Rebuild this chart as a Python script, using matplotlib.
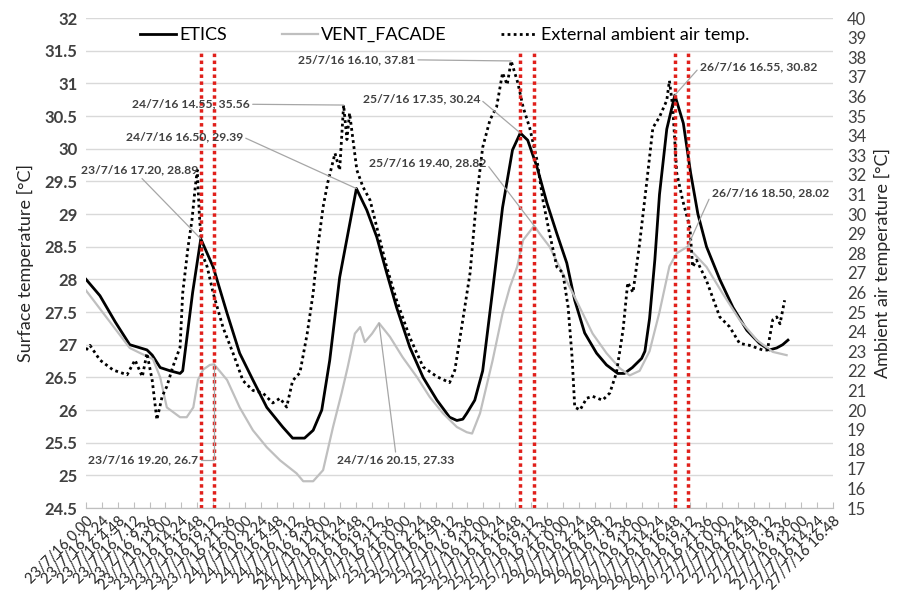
import numpy as np
import matplotlib
matplotlib.use("Agg")
import matplotlib.pyplot as plt

plt.rcParams['font.family'] = ['Lato', 'DejaVu Sans']

# time axis in hours from 23/7/16 0.00
etics_h = [0, 2.1, 4.4, 6.6, 9.2, 10.0, 11.2, 12.7, 14.2, 14.6, 16.1, 17.33, 19.2, 21.3,
           23.2, 25.2, 27.3, 29.7, 31.2, 33.0, 34.3, 35.6, 36.8, 38.3, 40.83, 42.4, 43.9,
           45.4, 46.9, 48.9, 50.9, 53.0, 54.9, 56.0, 56.9, 57.5, 58.7, 59.9, 61.4, 62.9,
           64.4, 65.58, 66.7, 68.1, 69.6, 71.1, 72.6, 73.8, 75.3, 77.1, 78.6, 80.3, 81.3,
           82.5, 83.9, 84.4, 85.1, 85.9, 86.6, 87.7, 88.92, 90.2, 91.3, 92.4, 93.7, 95.7,
           97.7, 99.8, 101.7, 103.2, 104.3, 105.2, 106.0]
etics = [28.0, 27.75, 27.35, 27.0, 26.92, 26.84, 26.65, 26.6, 26.56, 26.6, 27.8, 28.62, 28.19, 27.48,
         26.87, 26.46, 26.04, 25.74, 25.57, 25.57, 25.69, 26.0, 26.76, 28.03, 29.39, 29.06, 28.65,
         28.1, 27.57, 26.96, 26.5, 26.15, 25.89, 25.84, 25.86, 25.95, 26.15, 26.6, 27.83, 29.1,
         29.98, 30.24, 30.13, 29.72, 29.17, 28.7, 28.25, 27.68, 27.18, 26.87, 26.69, 26.56, 26.56,
         26.65, 26.79, 26.9, 27.4, 28.3, 29.3, 30.3, 30.82, 30.39, 29.63, 29.0, 28.5, 28.0,
         27.57, 27.22, 27.02, 26.92, 26.95, 27.0, 27.07]

vent_h = [0, 6.6, 8.2, 10.1, 11.2, 12.2, 14.2, 15.2, 16.2, 16.9, 17.7, 18.7, 19.33, 21.3,
          23.2, 25.2, 27.3, 29.3, 31.8, 32.8, 34.3, 35.8, 37.3, 38.6, 39.5, 40.6, 41.4,
          42.1, 43.2, 44.25, 45.9, 47.8, 50.0, 51.9, 53.9, 56.0, 57.5, 58.3, 59.5, 61.4,
          62.9, 64.0, 65.1, 66.0, 67.67, 68.5, 70.0, 71.5, 73.5, 75.0, 76.5, 78.6, 80.6,
          82.1, 83.6, 85.1, 86.6, 88.1, 89.2, 90.83, 93.7, 96.1, 98.7, 101.3, 103.7, 105.8]
vent = [27.83, 26.95, 26.87, 26.78, 26.5, 26.04, 25.89, 25.89, 26.04, 26.46, 26.62, 26.69, 26.7, 26.46,
        26.04, 25.69, 25.43, 25.23, 25.03, 24.91, 24.91, 25.08, 25.74, 26.26, 26.65, 27.17, 27.27,
        27.04, 27.17, 27.33, 27.12, 26.81, 26.5, 26.2, 25.95, 25.74, 25.66, 25.64, 25.95, 26.76,
        27.48, 27.88, 28.19, 28.6, 28.82, 28.7, 28.5, 28.19, 27.79, 27.48, 27.17, 26.87, 26.64,
        26.53, 26.6, 26.9, 27.5, 28.2, 28.4, 28.5, 28.19, 27.79, 27.38, 27.07, 26.89, 26.84]

amb_h = [0.0, 0.6, 2.1, 4.1, 6.2, 7.4, 8.5, 9.2, 10.0, 10.7, 11.5, 12.2, 13.1, 14.2, 14.6,
         15.4, 16.0, 16.5, 16.8, 17.1, 17.5, 18.3, 19.2, 20.7, 22.2, 23.7, 25.2, 26.7, 28.2,
         29.3, 30.3, 31.2, 32.3, 33.4, 34.3, 35.0, 35.8, 36.5, 37.6, 38.3, 38.9, 39.4, 39.8,
         40.9, 41.8, 42.9, 43.9, 45.4, 46.9, 48.9, 50.9, 53.0, 54.9, 55.7, 56.9, 58.0, 59.0,
         59.9, 61.0, 62.0, 62.9, 63.6, 64.2, 65.2, 66.0, 67.0, 68.1, 69.0, 70.0, 71.1, 72.0,
         72.8, 73.4, 73.8, 74.6, 75.6, 76.5, 78.0, 79.1, 80.1, 81.1, 81.8, 82.6, 83.6, 84.7,
         85.6, 86.6, 87.7, 88.1, 88.6, 89.2, 90.1, 91.2, 91.6, 92.2, 93.7, 95.7, 97.2, 98.7,
         100.2, 102.2, 102.9, 103.7, 104.3, 104.8, 105.5]
amb = [23.06, 23.3, 22.55, 22.04, 21.8, 22.55, 21.7, 22.9, 21.5, 19.5, 20.7, 21.2, 22.2, 23.2, 25.97,
       28.3, 29.7, 31.4, 32.24, 30.05, 28.0, 27.3, 25.97, 24.2, 22.9, 21.5, 21.0, 20.87, 20.36,
       20.6, 20.15, 21.5, 21.9, 23.9, 25.97, 28.3, 30.36, 31.6, 33.1, 32.24, 35.56, 33.8, 35.15,
       32.24, 31.4, 30.7, 29.34, 27.3, 25.6, 23.7, 22.2, 21.7, 21.4, 22.04, 24.6, 27.0, 30.87,
       33.4, 34.8, 35.46, 37.2, 36.6, 37.81, 36.7, 35.46, 34.4, 32.75, 30.7, 29.0, 27.3, 27.0,
       25.26, 22.7, 20.15, 20.0, 20.6, 20.7, 20.5, 20.87, 21.9, 24.1, 26.5, 26.0, 28.5, 31.7,
       34.4, 34.95, 35.8, 36.8, 35.46, 32.1, 30.7, 29.3, 27.3, 27.65, 26.6, 24.75, 24.24, 23.4,
       23.3, 23.06, 23.06, 24.6, 24.75, 24.4, 25.6]

red_lines = [17.33, 19.33, 65.58, 67.67, 88.92, 90.83]

# (text, series, hour)
labels = [
    ("23/7/16 17.20, 28.89", "etics", 17.33),
    ("24/7/16 14.55, 35.56", "amb", 38.9),
    ("24/7/16 16.50, 29.39", "etics", 40.83),
    ("25/7/16 16.10, 37.81", "amb", 64.2),
    ("25/7/16 17.35, 30.24", "etics", 65.58),
    ("25/7/16 19.40, 28.82", "vent", 67.67),
    ("26/7/16 16.55, 30.82", "etics", 88.92),
    ("26/7/16 18.50, 28.02", "vent", 90.83),
    ("23/7/16 19.20, 26.7", "vent", 19.33),
    ("24/7/16 20.15, 27.33", "vent", 44.25),
]

fig = plt.figure(figsize=(8.98, 6.01), dpi=100)
ax = fig.add_axes([0.0958, 0.1547, 0.8318, 0.8153])
ax2 = ax.twinx()

l1, = ax.plot(etics_h, etics, color='black', lw=2, label='ETICS')
l2, = ax.plot(vent_h, vent, color='#bfbfbf', lw=1.6, label='VENT_FACADE')
l3, = ax2.plot(amb_h, amb, color='black', lw=2, linestyle=(0, (1, 1.2)),
               label='External ambient air temp.')

for x in red_lines:
    ax2.axvline(x, ymin=0, ymax=7 / 7.5, color='#e0201b', lw=2.5, linestyle=(0, (1, 1)))

# x axis: Excel style labels every 2h24m
ticks = []
ticklabels = []
for k in range(48):
    m = k * 144
    ticks.append(m / 60)
    day = 23 + m // 1440
    r = m % 1440
    ticklabels.append("%d/7/16 %d.%02d" % (day, r // 60, r % 60))
ax.set_xlim(0, ticks[-1])
ax.set_xticks(ticks)
ax.set_xticklabels(ticklabels, rotation=45, ha='right', rotation_mode='anchor', fontsize=10.5,
                   color='#262626')
ax.tick_params(axis='x', direction='in', length=4, color='#bfbfbf', pad=4)

ax.set_ylim(24.5, 32)
ax.set_yticks(np.arange(24.5, 32.01, 0.5))
ax.set_yticklabels(["%g" % v for v in np.arange(24.5, 32.01, 0.5)], fontsize=12, fontweight='bold',
                   color='#404040')
ax.tick_params(axis='y', length=0, pad=6)
ax.grid(axis='y', color='#d9d9d9', lw=1)
ax.set_axisbelow(True)

ax2.set_ylim(15, 40)
ax2.set_yticks(range(15, 41))
ax2.tick_params(axis='y', length=0, labelsize=12, labelcolor='#404040', pad=10)

for a in (ax, ax2):
    for s in ['top', 'left', 'right']:
        a.spines[s].set_visible(False)
    a.spines['bottom'].set_color('#bfbfbf')

ax.set_ylabel("Surface temperature [°C]", fontsize=13, color='#262626', labelpad=8)
ax2.set_ylabel("Ambient air temperature [°C]", fontsize=13, color='#262626', labelpad=6)

leg = ax2.legend(handles=[l1, l2, l3], loc='upper center', bbox_to_anchor=(0.48, 1.015), ncol=3,
                 frameon=False, fontsize=13, columnspacing=3.0, handlelength=2.0, handletextpad=0.2)

# label positions (hour, left-axis value), alignment and leader start on text box
label_pos = [
    (16.9, 29.67, 'right', (0.5, 0.0)),
    (24.75, 30.68, 'right', (1.0, 0.5)),
    (23.7, 30.18, 'right', (1.0, 0.5)),
    (49.7, 31.36, 'right', (1.0, 0.5)),
    (59.5, 30.76, 'right', (1.0, 0.5)),
    (60.4, 29.78, 'right', (1.0, 0.5)),
    (92.7, 31.25, 'left', (0.0, 0.5)),
    (94.5, 29.32, 'left', (0.0, 0.5)),
    (16.9, 25.23, 'right', (1.0, 0.5)),
    (46.8, 25.23, 'center', (0.5, 1.0)),
]
series = {"etics": (etics_h, etics, ax), "vent": (vent_h, vent, ax), "amb": (amb_h, amb, ax2)}
for (txt, name, hr), (tx, ty, ha, rp) in zip(labels, label_pos):
    hs, vs, a = series[name]
    i = int(np.argmin(np.abs(np.array(hs) - hr)))
    cs = "angle,angleA=0,angleB=90,rad=0" if txt.endswith("26.7") else "arc3"
    ax2.annotate(txt, xy=(hs[i], vs[i]), xycoords=a.transData,
                 xytext=(tx, ty), textcoords=ax.transData, ha=ha, va='center',
                 fontsize=8.7, fontweight='bold', color='#404040',
                 arrowprops=dict(arrowstyle='-', color='#a6a6a6', lw=0.9, relpos=rp,
                                 shrinkA=0, shrinkB=0, connectionstyle=cs),
                 annotation_clip=False)

fig.savefig("out.png", dpi=100)
